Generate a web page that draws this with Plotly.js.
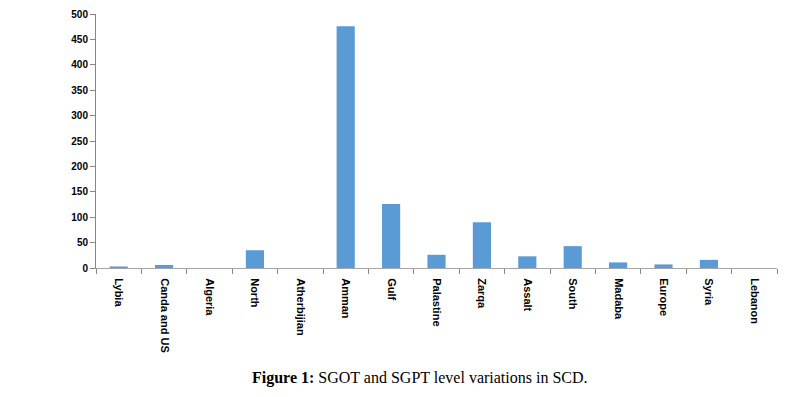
<!DOCTYPE html>
<html>
<head>
<meta charset="utf-8">
<script src="https://cdn.plot.ly/plotly-3.0.1.min.js"></script>
<style>html,body{margin:0;padding:0;background:#fff;}#chart{width:790px;height:397px;}</style>
</head>
<body>
<div id="chart"></div>
<script>
var categories = ["Lybia", "Canda and US", "Algeria", "North", "Atherbijian", "Amman", "Gulf", "Palastine", "Zarqa", "Assalt", "South", "Madaba", "Europe", "Syria", "Lebanon"];
var values = [3, 6, 0, 35, 0, 476, 126, 26, 90, 23, 43, 11, 7, 16, 0];
var yTicks = [0, 50, 100, 150, 200, 250, 300, 350, 400, 450, 500];
var captionBold = "Figure 1:";
var captionText = " SGOT and SGPT level variations in SCD.";

var trace = {
  type: "bar",
  x: categories,
  y: values,
  marker: {color: "#5B9BD5", line: {width: 0}},
  hoverinfo: "x+y"
};

var layout = {
  width: 790,
  height: 397,
  margin: {l: 96, r: 13, t: 14, b: 129},
  paper_bgcolor: "#ffffff",
  plot_bgcolor: "#ffffff",
  bargap: 0.6,
  showlegend: false,
  font: {family: "Arial, Liberation Sans, sans-serif", color: "#000"},
  xaxis: {
    type: "category",
    tickangle: 90,
    tickson: "boundaries",
    ticks: "outside",
    ticklen: 5,
    tickcolor: "#868686",
    ticklabelstandoff: 7,
    showline: true,
    linecolor: "#a6a6a6",
    linewidth: 1,
    showgrid: false,
    tickfont: {size: 11, family: "Arial, Liberation Sans, sans-serif", color: "#000", weight: "bold"}
  },
  yaxis: {
    range: [0, 500],
    tickvals: yTicks,
    ticks: "outside",
    ticklen: 5,
    tickcolor: "#868686",
    showline: true,
    linecolor: "#868686",
    linewidth: 1,
    showgrid: false,
    zeroline: false,
    tickfont: {size: 10, family: "Arial, Liberation Sans, sans-serif", color: "#000", weight: "bold"}
  },
  annotations: [{
    xref: "paper", yref: "paper",
    x: (420 - 96) / 681, y: -(378 - 268) / 254,
    xanchor: "center", yanchor: "middle",
    showarrow: false,
    text: "<b>" + captionBold + "</b>" + captionText,
    font: {family: "Liberation Serif, Times New Roman, serif", size: 16, color: "#000"}
  }]
};

Plotly.newPlot("chart", [trace], layout, {displayModeBar: false, staticPlot: true});
</script>
</body>
</html>
